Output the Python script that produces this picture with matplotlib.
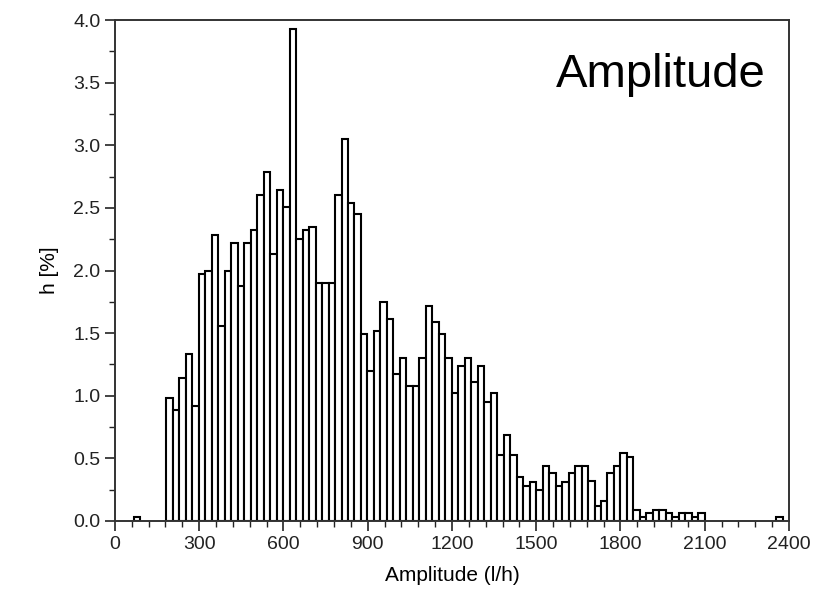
import matplotlib
matplotlib.use("Agg")
import matplotlib.pyplot as plt
from matplotlib.ticker import MultipleLocator

# histogram: bin width ~23.1 l/h, first main bin starts at ~183 l/h
BIN_START = 183.0
BIN_W = 23.1

heights = [
    0.98, 0.89, 1.14, 1.33, 0.92, 1.97, 2.00, 2.28, 1.56, 2.00,
    2.22, 1.88, 2.22, 2.32, 2.60, 2.79, 2.13, 2.64, 2.51, 3.93,
    2.25, 2.32, 2.35, 1.90, 1.90, 1.90, 2.60, 3.05, 2.54, 2.45,
    1.49, 1.20, 1.52, 1.75, 1.61, 1.17, 1.30, 1.08, 1.08, 1.30,
    1.72, 1.59, 1.49, 1.30, 1.02, 1.24, 1.30, 1.11, 1.24, 0.95,
    1.02, 0.53, 0.69, 0.53, 0.35, 0.28, 0.31, 0.25, 0.44, 0.38,
    0.28, 0.31, 0.38, 0.44, 0.44, 0.32, 0.12, 0.16, 0.38, 0.44,
    0.54, 0.51, 0.09, 0.03, 0.06, 0.09, 0.09, 0.06, 0.03, 0.06,
    0.06, 0.03, 0.06,
]
# isolated small bins (bin index relative to BIN_START)
extra_bins = [-5, 94]
extra_heights = [0.03, 0.03]

x_ticks = [0, 300, 600, 900, 1200, 1500, 1800, 2100, 2400]
y_ticks = [0.0, 0.5, 1.0, 1.5, 2.0, 2.5, 3.0, 3.5, 4.0]

plt.rcParams["font.family"] = ["Liberation Sans", "DejaVu Sans"]

fig = plt.figure(figsize=(8.21, 6.10), dpi=100)
ax = fig.add_axes([0.140, 0.146, 0.821, 0.821])

idx = list(range(len(heights))) + extra_bins
h = heights + extra_heights
lefts = [BIN_START + i * BIN_W for i in idx]
ax.bar(lefts, h, width=BIN_W, align="edge", facecolor="white",
       edgecolor="black", linewidth=1.5)

ax.set_xlim(0, 2400)
ax.set_ylim(0, 4.0)
ax.set_xticks(x_ticks)
ax.set_yticks(y_ticks)
ax.set_yticklabels([f"{v:.1f}" for v in y_ticks])
ax.xaxis.set_minor_locator(MultipleLocator(60))
ax.yaxis.set_minor_locator(MultipleLocator(0.25))
ax.tick_params(which="major", direction="out", length=7, width=1.2,
               labelsize=14, colors="#222222", top=False, right=False)
ax.tick_params(which="minor", direction="out", length=4, width=1.0,
               top=False, right=False, colors="#222222")
for s in ax.spines.values():
    s.set_linewidth(1.4)
    s.set_color("#333333")

ax.set_xlabel("Amplitude (l/h)", fontsize=15, labelpad=10)
ax.set_ylabel("h [%]", fontsize=15, labelpad=10)

ax.text(0.966, 0.89, "Amplitude", transform=ax.transAxes, ha="right",
        va="center", fontsize=34)

fig.savefig("out.png", dpi=100, facecolor="white")
